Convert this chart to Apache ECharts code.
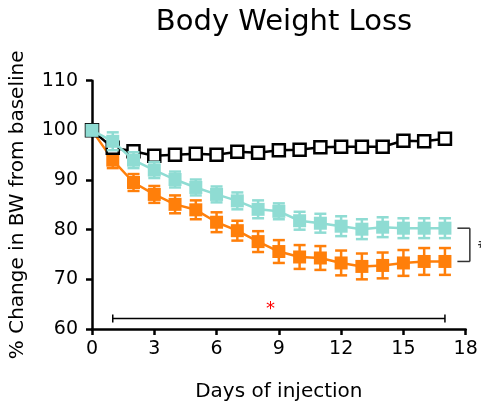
<!DOCTYPE html>
<html><head><meta charset="utf-8">
<script src="https://cdn.jsdelivr.net/npm/echarts@6/dist/echarts.min.js"></script>
<style>html,body{margin:0;padding:0;background:#fff}#c{width:481px;height:407px}</style>
</head><body><div id="c"></div>
<script>
var days = [0,1,2,3,4,5,6,7,8,9,10,11,12,13,14,15,16,17];
var xTicks = [0,3,6,9,12,15,18];
var yTicks = [60,70,80,90,100,110];
var controlMean = [100,96.5,95.8,94.9,95.1,95.3,95.1,95.7,95.5,96.0,96.1,96.6,96.7,96.7,96.7,97.9,97.8,98.3];
var controlErr  = [0.3,0.6,0.6,0.6,0.6,0.6,0.6,0.6,0.6,0.7,0.7,0.7,0.7,0.7,0.7,0.7,0.7,0.7];
var cyanMean = [100,97.8,94.0,92.0,90.1,88.5,87.1,85.8,84.1,83.7,81.8,81.3,80.7,80.1,80.5,80.3,80.3,80.3];
var cyanErr  = [0.3,1.8,1.6,1.6,1.6,1.6,1.6,1.7,1.8,1.6,1.8,1.9,2.0,2.0,2.0,2.0,2.0,2.0];
var orangeMean = [100,94.0,89.5,87.1,85.1,84.0,81.5,79.8,77.6,75.6,74.5,74.3,73.3,72.6,72.8,73.3,73.6,73.6];
var orangeErr  = [0.3,1.6,1.7,1.7,1.8,1.9,2.0,2.0,2.1,2.3,2.4,2.4,2.5,2.6,2.6,2.6,2.7,2.7];
var sigBar = {x0:1, x1:17, y:62.1};
var sigStar = {x:8.6, y:63.9, text:'*'};
var bracket = {x0:17.6, x1:18.2, yTop:80.3, yBot:73.6, labelX:18.55, text:'#'};

var FONT = 'DejaVu Sans';
var BLACK = '#000';
var CYAN = '#8fdcd3';
var ORANGE = '#ff7f0a';

function pairs(m){ return days.map(function(d,i){return [d,m[i]];}); }
function errData(m,e){ return days.map(function(d,i){return [d,m[i]-e[i],m[i]+e[i]];}); }
function errSeries(m,e,color,z){
  return {type:'custom', z:z, silent:true, data:errData(m,e),
    renderItem:function(params,api){
      var x=api.value(0), lo=api.coord([x,api.value(1)]), hi=api.coord([x,api.value(2)]);
      var w=6, st={stroke:color,lineWidth:2.5};
      return {type:'group',children:[
        {type:'line',shape:{x1:lo[0],y1:lo[1],x2:hi[0],y2:hi[1]},style:st},
        {type:'line',shape:{x1:lo[0]-w,y1:lo[1],x2:lo[0]+w,y2:lo[1]},style:st},
        {type:'line',shape:{x1:hi[0]-w,y1:hi[1],x2:hi[0]+w,y2:hi[1]},style:st}
      ]};
    }};
}
function lineSeries(m,color,fill,z,size){
  return {type:'line', z:z, data:pairs(m), symbol:'rect', symbolSize:size, showSymbol:true,
    lineStyle:{color:color,width:2.5}, itemStyle:{color:fill,borderColor:color,borderWidth:fill===color?0:2.5,opacity:1},
    animation:false, silent:true};
}

var chart = echarts.init(document.getElementById('c'));
chart.setOption({
  animation:false,
  title:{text:'Body Weight Loss', left:279, top:3, textAlign:'center',
    textStyle:{fontFamily:FONT,fontSize:29,fontWeight:'normal',color:'#000'}},
  grid:{left:92, right:15.3, top:80.7, bottom:76.3},
  xAxis:{type:'value', min:0, max:18, interval:3,
    name:'Days of injection', nameLocation:'middle', nameGap:53,
    nameTextStyle:{fontFamily:FONT,fontSize:20,color:'#000'},
    axisLine:{lineStyle:{color:BLACK,width:2.5}},
    axisTick:{length:6,lineStyle:{color:BLACK,width:2.5}},
    axisLabel:{fontFamily:FONT,fontSize:19,color:'#000',margin:11,
      formatter:function(v){return xTicks.indexOf(v)>=0?String(v):'';}},
    splitLine:{show:false}},
  yAxis:{type:'value', min:60, max:110, interval:10,
    name:'% Change in BW from baseline', nameLocation:'middle', nameGap:64,
    nameTextStyle:{fontFamily:FONT,fontSize:20,color:'#000'},
    axisLine:{show:true,lineStyle:{color:BLACK,width:2.5}},
    axisTick:{show:true,length:6,lineStyle:{color:BLACK,width:2.5}},
    axisLabel:{fontFamily:FONT,fontSize:19,color:'#000',margin:14,
      formatter:function(v){return yTicks.indexOf(v)>=0?String(v):'';}},
    splitLine:{show:false}},
  series:[
    errSeries(orangeMean,orangeErr,ORANGE,2),
    lineSeries(orangeMean,ORANGE,ORANGE,3,13),
    errSeries(controlMean,controlErr,BLACK,4),
    lineSeries(controlMean,BLACK,'#fff',5,12),
    errSeries(cyanMean,cyanErr,CYAN,6),
    lineSeries(cyanMean,CYAN,CYAN,7,13),
    {type:'custom', z:8, silent:true, clip:false, data:[[0]],
      renderItem:function(params,api){
        var a=api.coord([sigBar.x0,sigBar.y]), b=api.coord([sigBar.x1,sigBar.y]);
        var s=api.coord([sigStar.x,sigStar.y]);
        var t=api.coord([bracket.x0,bracket.yTop]), t2=api.coord([bracket.x1,bracket.yTop]);
        var u=api.coord([bracket.x0,bracket.yBot]), u2=api.coord([bracket.x1,bracket.yBot]);
        var h=api.coord([bracket.labelX,(bracket.yTop+bracket.yBot)/2]);
        var st={stroke:'#000',lineWidth:1.5};
        var st2={stroke:'#333',lineWidth:1.5};
        return {type:'group',children:[
          {type:'line',shape:{x1:a[0],y1:a[1],x2:b[0],y2:b[1]},style:st},
          {type:'line',shape:{x1:a[0],y1:a[1]-4,x2:a[0],y2:a[1]+4},style:st},
          {type:'line',shape:{x1:b[0],y1:b[1]-4,x2:b[0],y2:b[1]+4},style:st},
          {type:'text',x:s[0],y:s[1],style:{text:sigStar.text,fill:'#ff0000',fontSize:18,fontFamily:FONT,align:'center',verticalAlign:'middle'}},
          {type:'line',shape:{x1:t[0],y1:t[1],x2:t2[0],y2:t2[1]},style:st2},
          {type:'line',shape:{x1:u[0],y1:u[1],x2:u2[0],y2:u2[1]},style:st2},
          {type:'line',shape:{x1:t2[0],y1:t2[1],x2:u2[0],y2:u2[1]},style:st2},
          {type:'text',x:h[0],y:h[1],style:{text:bracket.text,fill:'#333',fontSize:14,fontFamily:FONT,align:'left',verticalAlign:'middle'}}
        ]};
      }}
  ]
});
</script></body></html>
